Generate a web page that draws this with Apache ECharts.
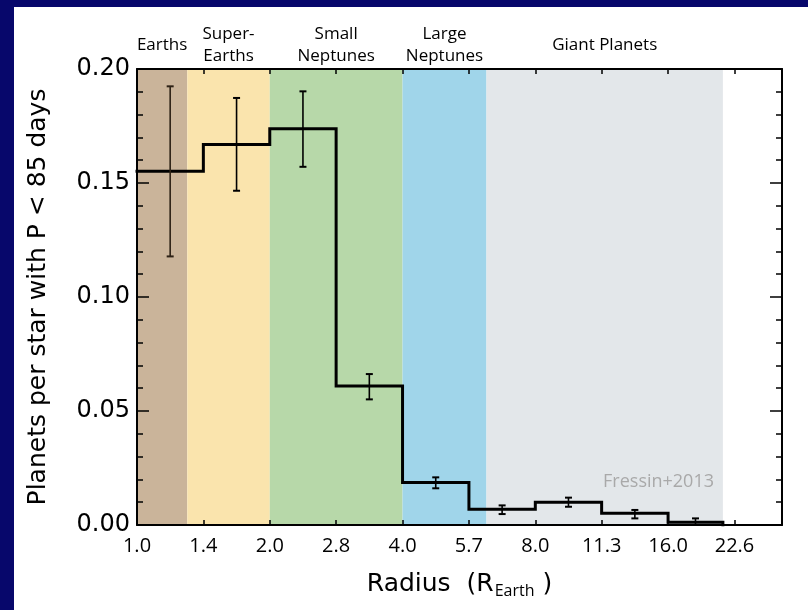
<!DOCTYPE html>
<html>
<head>
<meta charset="utf-8">
<script src="https://cdn.jsdelivr.net/npm/echarts@6/dist/echarts.min.js"></script>
<style>
  html, body { margin: 0; padding: 0; background: #07076b; }
  #chart { width: 808px; height: 610px; }
</style>
</head>
<body>
<div id="chart"></div>
<script>
// Radius bin edges in Earth radii (half-octave bins)
const binEdges = [1.0, 1.414, 2.0, 2.828, 4.0, 5.657, 8.0, 11.31, 16.0, 21.3];
// Planets per star with P < 85 days, one value per bin
const occurrence = [0.1552, 0.1669, 0.1738, 0.0610, 0.0186, 0.0069, 0.0100, 0.0051, 0.0012];
// Lower and upper ends of the error bars
const errLow  = [0.1178, 0.1466, 0.1571, 0.0551, 0.0161, 0.0048, 0.0080, 0.0029, 0.0000];
const errHigh = [0.1924, 0.1873, 0.1902, 0.0662, 0.0209, 0.0086, 0.0120, 0.0066, 0.0029];
const errColors = ['#2e2216', '#000', '#000', '#000', '#000', '#000', '#000', '#000', '#000'];

// Planet classes shaded behind the histogram
const classNames  = ['Earths', 'Super-\nEarths', 'Small\nNeptunes', 'Large\nNeptunes', 'Giant Planets'];
const classEdges  = [1.0, 1.3, 2.0, 4.0, 6.2, 21.3];
const classColors = ['#cab49a', '#fae4ad', '#b7d8a9', '#a0d5ea', '#e3e7ea'];

// Tick labels along the radius axis (one every half octave)
const xTickLabels = ['1.0', '1.4', '2.0', '2.8', '4.0', '5.7', '8.0', '11.3', '16.0', '22.6'];
const radiusMax = 29.0;

const lg = Math.log2;

// Step outline of the histogram, in log2(radius)
const stepPoints = [];
occurrence.forEach((v, i) => {
  stepPoints.push([lg(binEdges[i]), v]);
  stepPoints.push([lg(binEdges[i + 1]), v]);
});
stepPoints.push([lg(binEdges[binEdges.length - 1]), 0]);

// Error bars sit at the logarithmic centre of each bin
const errorData = occurrence.map((v, i) => [
  (lg(binEdges[i]) + lg(binEdges[i + 1])) / 2, errLow[i], errHigh[i], i
]);

const bands = classNames.map((name, i) => [
  { name: name, xAxis: lg(classEdges[i]), itemStyle: { color: classColors[i] } },
  { xAxis: lg(classEdges[i + 1]) }
]);

const axisFont = 'DejaVu Sans';
const labelFont = 'Open Sans';

const xLabelFormatter = v => {
  const k = Math.round(v * 2);
  if (Math.abs(v * 2 - k) > 1e-6) return '';
  return xTickLabels[k] || '';
};

const frameLine = { color: '#000', width: 2 };
const tickLine = { color: '#000', width: 1.5 };

const chart = echarts.init(document.getElementById('chart'), null, { renderer: 'canvas' });

chart.setOption({
  backgroundColor: '#07076b',
  animation: false,
  graphic: [
    {
      type: 'rect', z: -10, left: 14, top: 7,
      shape: { width: 794, height: 603 },
      style: { fill: '#ffffff' }
    },
    {
      type: 'text', z: 10, right: 94, top: 473,
      style: { text: 'Fressin+2013', fill: '#a9a9a9', font: '18px "Open Sans"' }
    }
  ],
  grid: { left: 137, right: 26, top: 69, bottom: 85 },
  xAxis: [
    {
      type: 'value', position: 'bottom', min: 0, max: lg(radiusMax), interval: 0.5,
      zlevel: 1, z: 10,
      axisLine: { show: true, onZero: false, lineStyle: frameLine },
      axisTick: { show: true, inside: true, length: 5, lineStyle: tickLine },
      axisLabel: {
        show: true, margin: 11, color: '#000', fontSize: 20, fontFamily: labelFont,
        formatter: xLabelFormatter, showMinLabel: true, showMaxLabel: false
      },
      splitLine: { show: false },
      name: '{a|Radius  (R}{b|Earth}{a| )}',
      nameLocation: 'middle', nameGap: 45,
      nameTextStyle: {
        rich: {
          a: { fontSize: 25, fontFamily: axisFont, color: '#000' },
          b: { fontSize: 16, fontFamily: labelFont, color: '#000', padding: [13, 0, 0, 1] }
        }
      }
    },
    {
      type: 'value', position: 'top', min: 0, max: lg(radiusMax), interval: 0.5,
      zlevel: 1, z: 10,
      axisLine: { show: true, onZero: false, lineStyle: frameLine },
      axisTick: { show: true, inside: true, length: 5, lineStyle: tickLine },
      axisLabel: { show: false },
      splitLine: { show: false }
    }
  ],
  yAxis: [
    {
      type: 'value', position: 'left', min: 0, max: 0.2, interval: 0.05,
      zlevel: 1, z: 10,
      axisLine: { show: true, onZero: false, lineStyle: frameLine },
      axisTick: { show: true, inside: true, length: 12, lineStyle: tickLine },
      minorTick: { show: true, splitNumber: 5, length: 6, lineStyle: tickLine },
      axisLabel: {
        show: true, margin: 7, color: '#000', fontSize: 24, fontFamily: axisFont,
        formatter: v => v.toFixed(2)
      },
      splitLine: { show: false },
      name: 'Planets per star with P < 85 days',
      nameLocation: 'middle', nameGap: 86,
      nameTextStyle: { fontSize: 25, fontFamily: axisFont, color: '#000' }
    },
    {
      type: 'value', position: 'right', min: 0, max: 0.2, interval: 0.05,
      zlevel: 1, z: 10,
      axisLine: { show: true, onZero: false, lineStyle: frameLine },
      axisTick: { show: true, inside: true, length: 12, lineStyle: tickLine },
      minorTick: { show: true, splitNumber: 5, length: 6, lineStyle: tickLine },
      axisLabel: { show: false },
      splitLine: { show: false }
    }
  ],
  series: [
    {
      name: 'classes',
      type: 'line',
      xAxisIndex: 0, yAxisIndex: 0,
      data: [],
      z: 1,
      silent: true,
      markArea: {
        silent: true,
        label: {
          show: true, position: 'top', distance: 24, verticalAlign: 'middle', align: 'center',
          color: '#000', fontSize: 17, lineHeight: 22, fontFamily: labelFont
        },
        data: bands
      }
    },
    {
      name: 'occurrence',
      type: 'line',
      xAxisIndex: 0, yAxisIndex: 0,
      data: stepPoints,
      showSymbol: false,
      symbol: 'none',
      lineStyle: { color: '#000', width: 3, join: 'miter', cap: 'square' },
      z: 4
    },
    {
      name: 'uncertainty',
      type: 'custom',
      xAxisIndex: 0, yAxisIndex: 0,
      data: errorData,
      encode: { x: 0, y: [1, 2] },
      z: 5,
      renderItem: (params, api) => {
        const x = api.value(0);
        const lo = api.coord([x, api.value(1)]);
        const hi = api.coord([x, api.value(2)]);
        const color = errColors[api.value(3)];
        const cap = 3.5;
        return {
          type: 'group',
          children: [
            { type: 'line', shape: { x1: lo[0], y1: lo[1], x2: hi[0], y2: hi[1] }, style: { stroke: color, lineWidth: 1.6 } },
            { type: 'line', shape: { x1: lo[0] - cap, y1: lo[1], x2: lo[0] + cap, y2: lo[1] }, style: { stroke: color, lineWidth: 2 } },
            { type: 'line', shape: { x1: hi[0] - cap, y1: hi[1], x2: hi[0] + cap, y2: hi[1] }, style: { stroke: color, lineWidth: 2 } }
          ]
        };
      }
    }
  ]
});
</script>
</body>
</html>
